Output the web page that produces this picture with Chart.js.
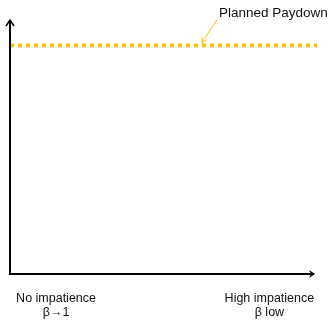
<!DOCTYPE html>
<html>
<head>
<meta charset="utf-8">
<script src="https://cdn.jsdelivr.net/npm/chart.js@4"></script>
<style>
  html, body { margin: 0; padding: 0; background: #fff; }
  #wrap { width: 332px; height: 321px; }
</style>
</head>
<body>
<div id="wrap"><canvas id="myChart"></canvas></div>
<script>
// data
const impatience = [0, 1];
const plannedPaydown = [0.9, 0.9];
const seriesName = 'Planned Paydown';
const tickValues = [0.15, 0.845];
const tickLabels = [['No impatience', 'β→1'], ['High impatience', 'β low']];
const calloutAt = 0.625;

const FONT = "'Liberation Sans', 'DejaVu Sans', Arial, sans-serif";

// draws the two arrow axes and the callout label
const arrowAxes = {
  id: 'arrowAxes',
  afterDatasetsDraw(chart) {
    const { ctx, chartArea } = chart;
    const { left, right, top, bottom } = chartArea;
    ctx.save();
    ctx.strokeStyle = '#000';
    ctx.lineWidth = 2;
    ctx.lineCap = 'butt';
    // y axis
    ctx.beginPath();
    ctx.moveTo(left, bottom + 1);
    ctx.lineTo(left, top + 1);
    ctx.stroke();
    // x axis
    ctx.beginPath();
    ctx.moveTo(left - 1, bottom);
    ctx.lineTo(right - 3, bottom);
    ctx.stroke();
    // arrow heads
    ctx.lineWidth = 1.5;
    ctx.beginPath();
    ctx.moveTo(left - 4, top + 6);
    ctx.lineTo(left, top);
    ctx.lineTo(left + 4, top + 6);
    ctx.stroke();
    ctx.fillStyle = '#000';
    ctx.beginPath();
    ctx.moveTo(right - 2, bottom);
    ctx.lineTo(right - 8, bottom - 4);
    ctx.lineTo(right - 6, bottom);
    ctx.lineTo(right - 8, bottom + 4);
    ctx.closePath();
    ctx.fill();

    // callout
    const xs = chart.scales.x, ys = chart.scales.y;
    const tx = xs.getPixelForValue(calloutAt);
    const ty = ys.getPixelForValue(plannedPaydown[0]) - 3;
    const sx = tx + 15, sy = top;
    ctx.strokeStyle = '#FFC000';
    ctx.lineWidth = 1;
    ctx.beginPath();
    ctx.moveTo(sx, sy);
    ctx.lineTo(tx, ty);
    ctx.stroke();
    const ang = Math.atan2(ty - sy, tx - sx);
    ctx.beginPath();
    ctx.moveTo(tx - 5 * Math.cos(ang - 0.5), ty - 5 * Math.sin(ang - 0.5));
    ctx.lineTo(tx, ty);
    ctx.lineTo(tx - 5 * Math.cos(ang + 0.5), ty - 5 * Math.sin(ang + 0.5));
    ctx.stroke();
    ctx.fillStyle = '#111';
    ctx.font = '13.5px ' + FONT;
    ctx.textAlign = 'left';
    ctx.textBaseline = 'alphabetic';
    ctx.fillText(chart.data.datasets[0].label, sx + 2, 17);
    ctx.restore();
  }
};

new Chart(document.getElementById('myChart'), {
  type: 'line',
  data: {
    datasets: [
      {
        label: seriesName,
        data: impatience.map((x, i) => ({ x: x, y: plannedPaydown[i] })),
        borderColor: '#FFC000',
        borderWidth: 4,
        borderDash: [4, 4],
        borderCapStyle: 'butt',
        pointRadius: 0,
        fill: false,
      },
    ]
  },
  options: {
    responsive: true,
    maintainAspectRatio: false,
    animation: false,
    layout: {
      padding: { left: 10, right: 15, top: 20, bottom: 0 }
    },
    scales: {
      x: {
        type: 'linear',
        min: 0,
        max: 1,
        grid: { display: false },
        border: { display: false },
        afterBuildTicks: scale => {
          scale.ticks = tickValues.map(v => ({ value: v }));
        },
        afterFit: scale => {
          scale.height = 47;
        },
        ticks: {
          autoSkip: false,
          maxRotation: 0,
          padding: 9,
          color: '#111',
          font: { family: FONT, size: 12.5, lineHeight: 1.15 },
          callback: (v, i) => tickLabels[i],
        },
      },
      y: {
        display: false,
        min: 0,
        max: 1,
      },
    },
    plugins: {
      legend: { display: false },
      tooltip: { enabled: false },
    },
  },
  plugins: [arrowAxes]
});
</script>
</body>
</html>
